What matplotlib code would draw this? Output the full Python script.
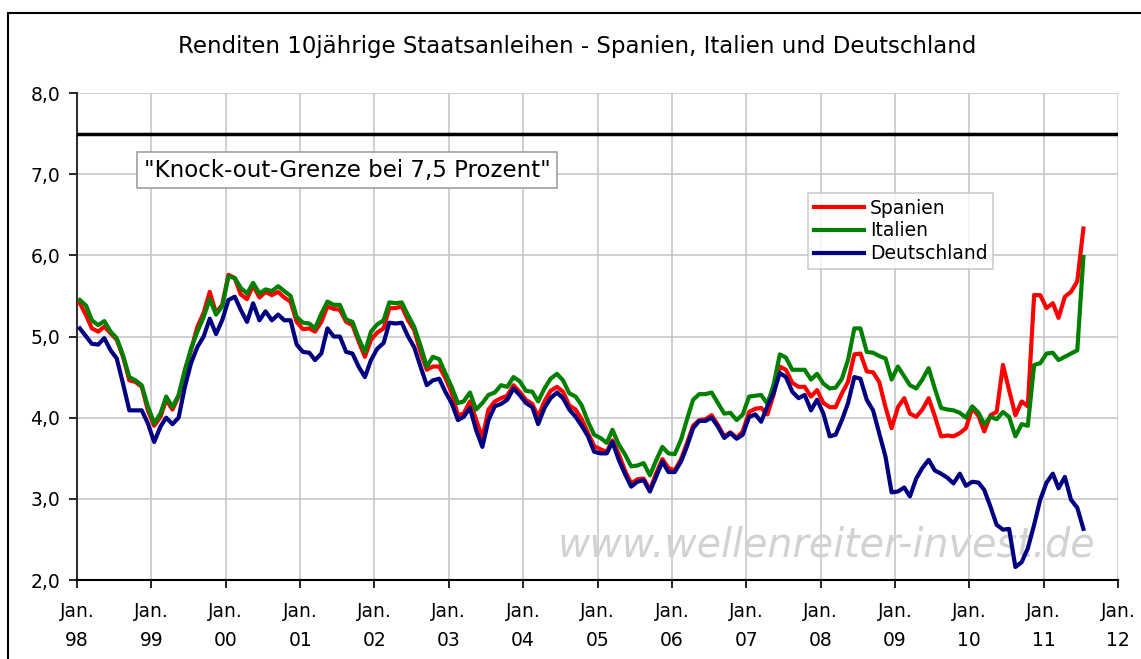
import numpy as np
import pandas as pd
import matplotlib
matplotlib.use("Agg")
import matplotlib.pyplot as plt
from matplotlib.patches import Rectangle

# monthly yields, Jan 1998 - Jul 2011
spanien = [
    5.41, 5.26, 5.10, 5.06, 5.12, 5.04, 4.96, 4.75, 4.46, 4.44, 4.38, 4.09,
    3.90, 4.01, 4.22, 4.10, 4.26, 4.57, 4.83, 5.12, 5.29, 5.55, 5.29, 5.39,
    5.76, 5.72, 5.52, 5.46, 5.63, 5.48, 5.55, 5.51, 5.55, 5.48, 5.43, 5.18,
    5.09, 5.10, 5.06, 5.18, 5.37, 5.34, 5.33, 5.18, 5.14, 4.94, 4.75, 4.96,
    5.05, 5.10, 5.35, 5.35, 5.37, 5.20, 5.08, 4.81, 4.59, 4.63, 4.63, 4.49,
    4.31, 4.03, 4.05, 4.20, 3.98, 3.75, 4.10, 4.20, 4.24, 4.27, 4.40, 4.32,
    4.22, 4.17, 4.01, 4.20, 4.33, 4.38, 4.32, 4.15, 4.10, 3.98, 3.81, 3.65,
    3.61, 3.58, 3.72, 3.55, 3.35, 3.19, 3.24, 3.25, 3.11, 3.31, 3.49, 3.38,
    3.35, 3.49, 3.68, 3.90, 3.97, 3.98, 4.03, 3.91, 3.77, 3.82, 3.75, 3.83,
    4.07, 4.11, 4.12, 4.04, 4.28, 4.63, 4.59, 4.43, 4.38, 4.38, 4.26, 4.34,
    4.18, 4.13, 4.13, 4.30, 4.44, 4.78, 4.79, 4.57, 4.56, 4.44, 4.13, 3.87,
    4.13, 4.24, 4.05, 4.01, 4.10, 4.24, 4.02, 3.77, 3.78, 3.77, 3.81, 3.87,
    4.12, 4.02, 3.83, 4.03, 4.07, 4.65, 4.34, 4.03, 4.20, 4.14, 5.51, 5.51,
    5.35, 5.41, 5.23, 5.49, 5.55, 5.68, 6.33,
]
italien = [
    5.45, 5.38, 5.20, 5.14, 5.19, 5.06, 4.98, 4.77, 4.50, 4.46, 4.40, 4.14,
    3.93, 4.05, 4.26, 4.13, 4.28, 4.59, 4.85, 5.06, 5.24, 5.46, 5.27, 5.37,
    5.74, 5.72, 5.60, 5.53, 5.66, 5.53, 5.58, 5.56, 5.62, 5.56, 5.50, 5.24,
    5.17, 5.16, 5.10, 5.28, 5.43, 5.39, 5.39, 5.21, 5.18, 4.98, 4.81, 5.06,
    5.15, 5.20, 5.42, 5.41, 5.42, 5.26, 5.12, 4.89, 4.63, 4.75, 4.72, 4.55,
    4.38, 4.18, 4.20, 4.31, 4.10, 4.18, 4.28, 4.31, 4.40, 4.38, 4.50, 4.45,
    4.33, 4.32, 4.20, 4.36, 4.48, 4.54, 4.46, 4.30, 4.26, 4.15, 3.95, 3.79,
    3.75, 3.69, 3.85, 3.67, 3.55, 3.40, 3.41, 3.44, 3.29, 3.47, 3.64, 3.56,
    3.55, 3.73, 3.97, 4.22, 4.29, 4.29, 4.31, 4.18, 4.05, 4.06, 3.97, 4.04,
    4.26, 4.27, 4.28, 4.17, 4.40, 4.78, 4.74, 4.59, 4.59, 4.59, 4.47, 4.54,
    4.42, 4.36, 4.37, 4.48, 4.71, 5.10, 5.10, 4.81, 4.80, 4.76, 4.73, 4.47,
    4.63, 4.51, 4.40, 4.36, 4.47, 4.61, 4.36, 4.12, 4.10, 4.09, 4.06, 4.00,
    4.14, 4.06, 3.92, 4.01, 3.98, 4.07, 4.01, 3.77, 3.92, 3.90, 4.65, 4.67,
    4.79, 4.80, 4.71, 4.75, 4.79, 4.83, 5.98,
]
deutschland = [
    5.10, 5.00, 4.91, 4.90, 4.98, 4.83, 4.73, 4.42, 4.09, 4.09, 4.09, 3.93,
    3.70, 3.89, 4.00, 3.92, 4.00, 4.38, 4.67, 4.87, 5.00, 5.22, 5.03, 5.20,
    5.45, 5.49, 5.33, 5.18, 5.41, 5.20, 5.31, 5.20, 5.27, 5.20, 5.20, 4.90,
    4.81, 4.80, 4.71, 4.79, 5.10, 5.00, 5.00, 4.81, 4.79, 4.63, 4.50, 4.71,
    4.85, 4.92, 5.17, 5.16, 5.17, 5.00, 4.87, 4.63, 4.40, 4.46, 4.48, 4.32,
    4.18, 3.97, 4.01, 4.12, 3.85, 3.64, 3.97, 4.14, 4.17, 4.22, 4.36, 4.28,
    4.18, 4.13, 3.92, 4.12, 4.24, 4.31, 4.24, 4.10, 4.01, 3.90, 3.77, 3.58,
    3.56, 3.56, 3.70, 3.48, 3.31, 3.15, 3.21, 3.23, 3.09, 3.27, 3.46, 3.33,
    3.33, 3.46, 3.64, 3.87, 3.96, 3.96, 4.00, 3.89, 3.75, 3.81, 3.74, 3.79,
    4.01, 4.04, 3.95, 4.14, 4.30, 4.55, 4.50, 4.32, 4.24, 4.28, 4.09, 4.22,
    4.05, 3.77, 3.79, 3.97, 4.18, 4.50, 4.48, 4.22, 4.09, 3.81, 3.52, 3.08,
    3.09, 3.14, 3.03, 3.25, 3.38, 3.48, 3.35, 3.31, 3.26, 3.19, 3.31, 3.16,
    3.21, 3.20, 3.11, 2.90, 2.68, 2.62, 2.63, 2.16, 2.22, 2.39, 2.68, 2.99,
    3.20, 3.31, 3.13, 3.27, 2.99, 2.89, 2.63,
]
knockout = 7.5
years = list(range(1998, 2013))

dates = pd.date_range("1998-01-01", periods=len(spanien), freq="MS") + pd.Timedelta(days=14)

fig = plt.figure(figsize=(11.41, 6.59), dpi=100)
ax = fig.add_axes([77 / 1141, 1 - 580 / 659, (1118 - 77) / 1141, (580 - 93) / 659])

# outer chart frame
fig.patches.append(Rectangle((8 / 1141, -0.05), 1.2, 1 - 13 / 659 + 0.05,
                             transform=fig.transFigure, fill=False,
                             edgecolor="black", lw=1.5))

ax.plot(dates, spanien, color="#ff0000", lw=3, label="Spanien", zorder=3)
ax.plot(dates, italien, color="#008000", lw=3, label="Italien", zorder=4)
ax.plot(dates, deutschland, color="#000080", lw=3, label="Deutschland", zorder=5)
ax.axhline(knockout, color="black", lw=2.5, zorder=6)

ticks = [pd.Timestamp(f"{y}-01-01") for y in years]
ax.set_xlim(ticks[0], ticks[-1])
ax.set_ylim(2, 8)
ax.set_xticks(ticks)
ax.set_xticklabels([f"Jan.\n{str(y)[2:]}" for y in years], linespacing=1.65)
ax.set_yticks(np.arange(2, 9, 1))
ax.set_yticklabels([f"{v:.1f}".replace(".", ",") for v in np.arange(2, 9, 1)])
ax.tick_params(axis="both", labelsize=13.5, direction="out", length=6, width=1.2)
ax.tick_params(axis="x", pad=10)
ax.tick_params(axis="y", pad=6)

ax.grid(True, color="#c8c8c8", lw=1.2)
ax.set_axisbelow(True)
for s in ["top", "right"]:
    ax.spines[s].set_visible(False)
ax.spines["left"].set_color("#303030")
ax.spines["left"].set_linewidth(1.5)
ax.spines["bottom"].set_linewidth(1.5)

fig.text(577 / 1141, 1 - 46 / 659, "Renditen 10jährige Staatsanleihen - Spanien, Italien und Deutschland",
         ha="center", va="center", fontsize=16.5)

ax.text(pd.Timestamp("2001-08-20"), 7.05, '"Knock-out-Grenze bei 7,5 Prozent"',
        ha="center", va="center", fontsize=16.5, zorder=7,
        bbox=dict(boxstyle="square,pad=0.3", fc="white", ec="#a0a0a0", lw=1.2))

ax.text(pd.Timestamp("2008-02-01"), 2.43, "www.wellenreiter-invest.de",
        ha="center", va="center", fontsize=28.5, style="italic",
        color="#d2d2d2", zorder=2)

leg = ax.legend(loc="upper left", bbox_to_anchor=(808 / 1141, 1 - 193 / 659),
                bbox_transform=fig.transFigure, fontsize=13.5, frameon=True,
                fancybox=False, edgecolor="#c0c0c0", handlelength=2.7,
                handletextpad=0.3, labelspacing=0.2, borderpad=0.3,
                borderaxespad=0)
leg.get_frame().set_linewidth(1.2)

fig.savefig("out.png", dpi=100)
